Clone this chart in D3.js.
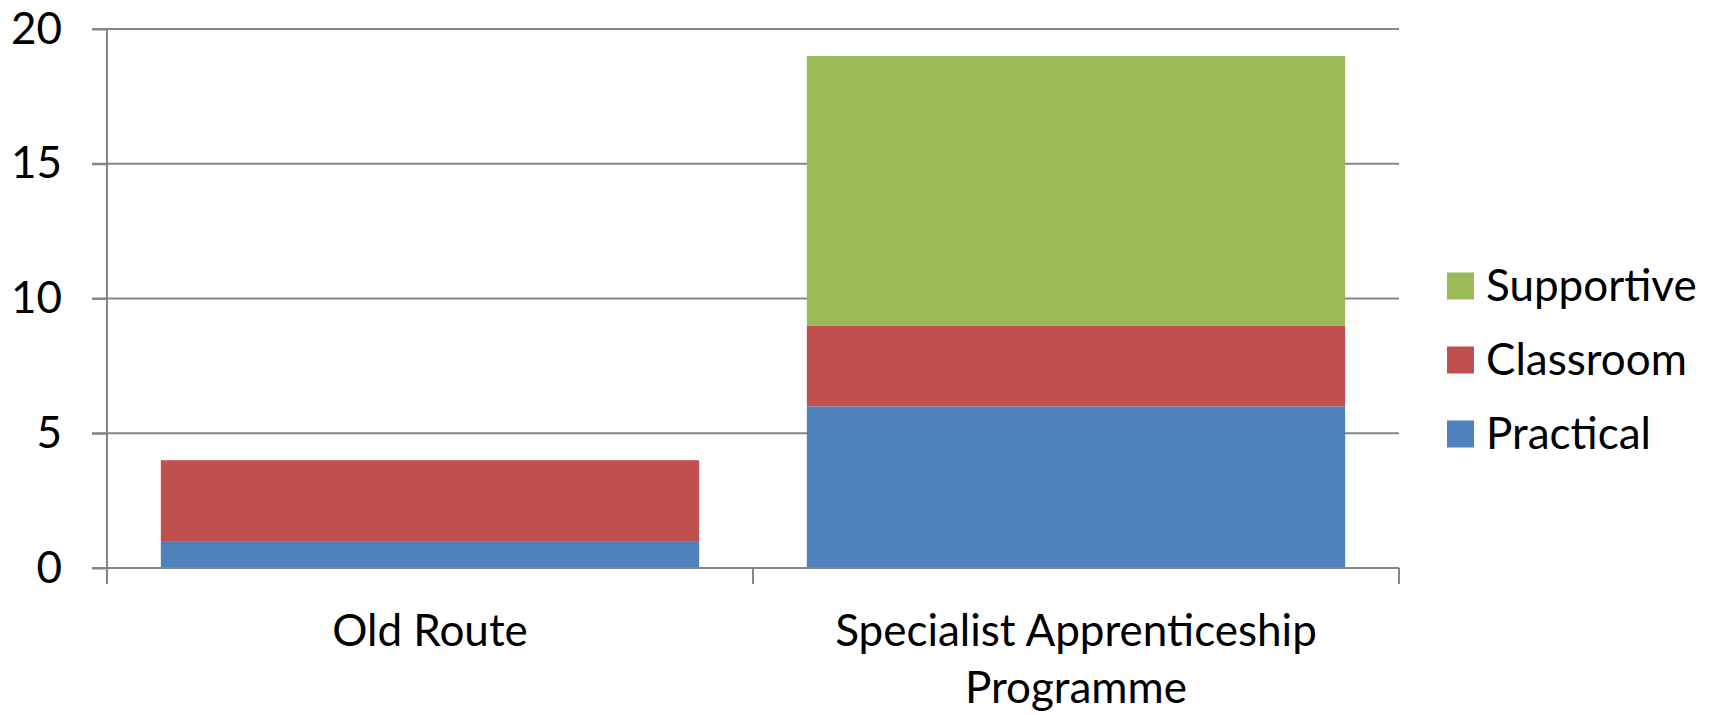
<!DOCTYPE html>
<html>
<head>
<meta charset="utf-8">
<script src="https://cdn.jsdelivr.net/npm/d3@7"></script>
<style>
  body { margin: 0; background: #fff; }
  text { font-family: Lato, "Open Sans", sans-serif; fill: #000; }
</style>
</head>
<body>
<div id="chart"></div>
<script>
// chart data
const categories = ["Old Route", "Specialist Apprenticeship Programme"];
const seriesNames = ["Practical", "Classroom", "Supportive"];
const practical = [1, 6];
const classroom = [3, 3];
const supportive = [0, 10];
const yTicks = [0, 5, 10, 15, 20];

const colors = { Practical: "#4F81BD", Classroom: "#C0504D", Supportive: "#9BBB59" };
const fontSize = 44;

const width = 1710, height = 715;
const margin = { top: 29, left: 107, right: 311, bottom: 147 };
const innerW = width - margin.left - margin.right,
      innerH = height - margin.top - margin.bottom;

const rows = categories.map((c, i) => ({
  category: c,
  Practical: practical[i],
  Classroom: classroom[i],
  Supportive: supportive[i]
}));

const svg = d3.select("#chart")
  .append("svg")
  .attr("width", width)
  .attr("height", height);

const g = svg.append("g")
  .attr("transform", `translate(${margin.left},${margin.top})`);

const x = d3.scaleBand()
  .domain(categories)
  .range([0, innerW])
  .paddingInner(1 / 6)
  .paddingOuter(1 / 12);

const y = d3.scaleLinear()
  .domain([0, 20])
  .range([innerH, 0]);

// gridlines
g.append("g")
  .selectAll("line")
  .data(yTicks)
  .join("line")
  .attr("x1", -15)
  .attr("x2", innerW)
  .attr("y1", d => y(d))
  .attr("y2", d => y(d))
  .attr("stroke", "#868686")
  .attr("stroke-width", 2);

// bars
const series = d3.stack().keys(seriesNames)(rows);
g.append("g")
  .selectAll("g")
  .data(series)
  .join("g")
  .attr("fill", d => colors[d.key])
  .selectAll("rect")
  .data(d => d)
  .join("rect")
  .attr("x", d => x(d.data.category))
  .attr("y", d => y(d[1]))
  .attr("width", x.bandwidth())
  .attr("height", d => y(d[0]) - y(d[1]));

// y axis
const yAxis = g.append("g")
  .call(d3.axisLeft(y).tickValues(yTicks).tickSize(15).tickPadding(30));
yAxis.select(".domain").remove();
yAxis.selectAll("line").attr("stroke", "#868686").attr("stroke-width", 2);
yAxis.selectAll("text").attr("font-size", fontSize).attr("font-family", "Lato, 'Open Sans', sans-serif");

g.append("line")
  .attr("x1", 0).attr("x2", 0)
  .attr("y1", 0).attr("y2", innerH + 16)
  .attr("stroke", "#868686")
  .attr("stroke-width", 2);

// x axis line and category separators
g.append("line")
  .attr("x1", 0).attr("x2", innerW)
  .attr("y1", innerH).attr("y2", innerH)
  .attr("stroke", "#868686")
  .attr("stroke-width", 2);

const bounds = d3.range(categories.length + 1).map(i => i * x.step());
g.append("g")
  .selectAll("line")
  .data(bounds)
  .join("line")
  .attr("x1", d => d).attr("x2", d => d)
  .attr("y1", innerH).attr("y2", innerH + 16)
  .attr("stroke", "#868686")
  .attr("stroke-width", 2);

// category labels, wrapped
function wrapLines(text, maxW) {
  const tmp = svg.append("text").attr("font-size", fontSize);
  const words = text.split(" ");
  const lines = [];
  let line = [];
  words.forEach(w => {
    line.push(w);
    tmp.text(line.join(" "));
    if (tmp.node().getComputedTextLength() > maxW && line.length > 1) {
      line.pop();
      lines.push(line.join(" "));
      line = [w];
    }
  });
  lines.push(line.join(" "));
  tmp.remove();
  return lines;
}

categories.forEach(c => {
  const lines = wrapLines(c, x.step() * 0.85);
  const t = g.append("text")
    .attr("font-size", fontSize)
    .attr("text-anchor", "middle")
    .attr("x", x(c) + x.bandwidth() / 2)
    .attr("y", innerH + 78);
  lines.forEach((l, i) => {
    t.append("tspan")
      .attr("x", x(c) + x.bandwidth() / 2)
      .attr("dy", i === 0 ? 0 : 57)
      .text(l);
  });
});

// legend
const legend = svg.append("g")
  .attr("transform", "translate(1447,286)");
const legendOrder = seriesNames.slice().reverse();
legendOrder.forEach((name, i) => {
  const item = legend.append("g").attr("transform", `translate(0,${i * 74})`);
  item.append("rect")
    .attr("x", 0).attr("y", -13.5)
    .attr("width", 27).attr("height", 27)
    .attr("fill", colors[name]);
  item.append("text")
    .attr("x", 39)
    .attr("y", 0)
    .attr("dy", "0.35em")
    .attr("font-size", fontSize)
    .text(name);
});
</script>
</body>
</html>
